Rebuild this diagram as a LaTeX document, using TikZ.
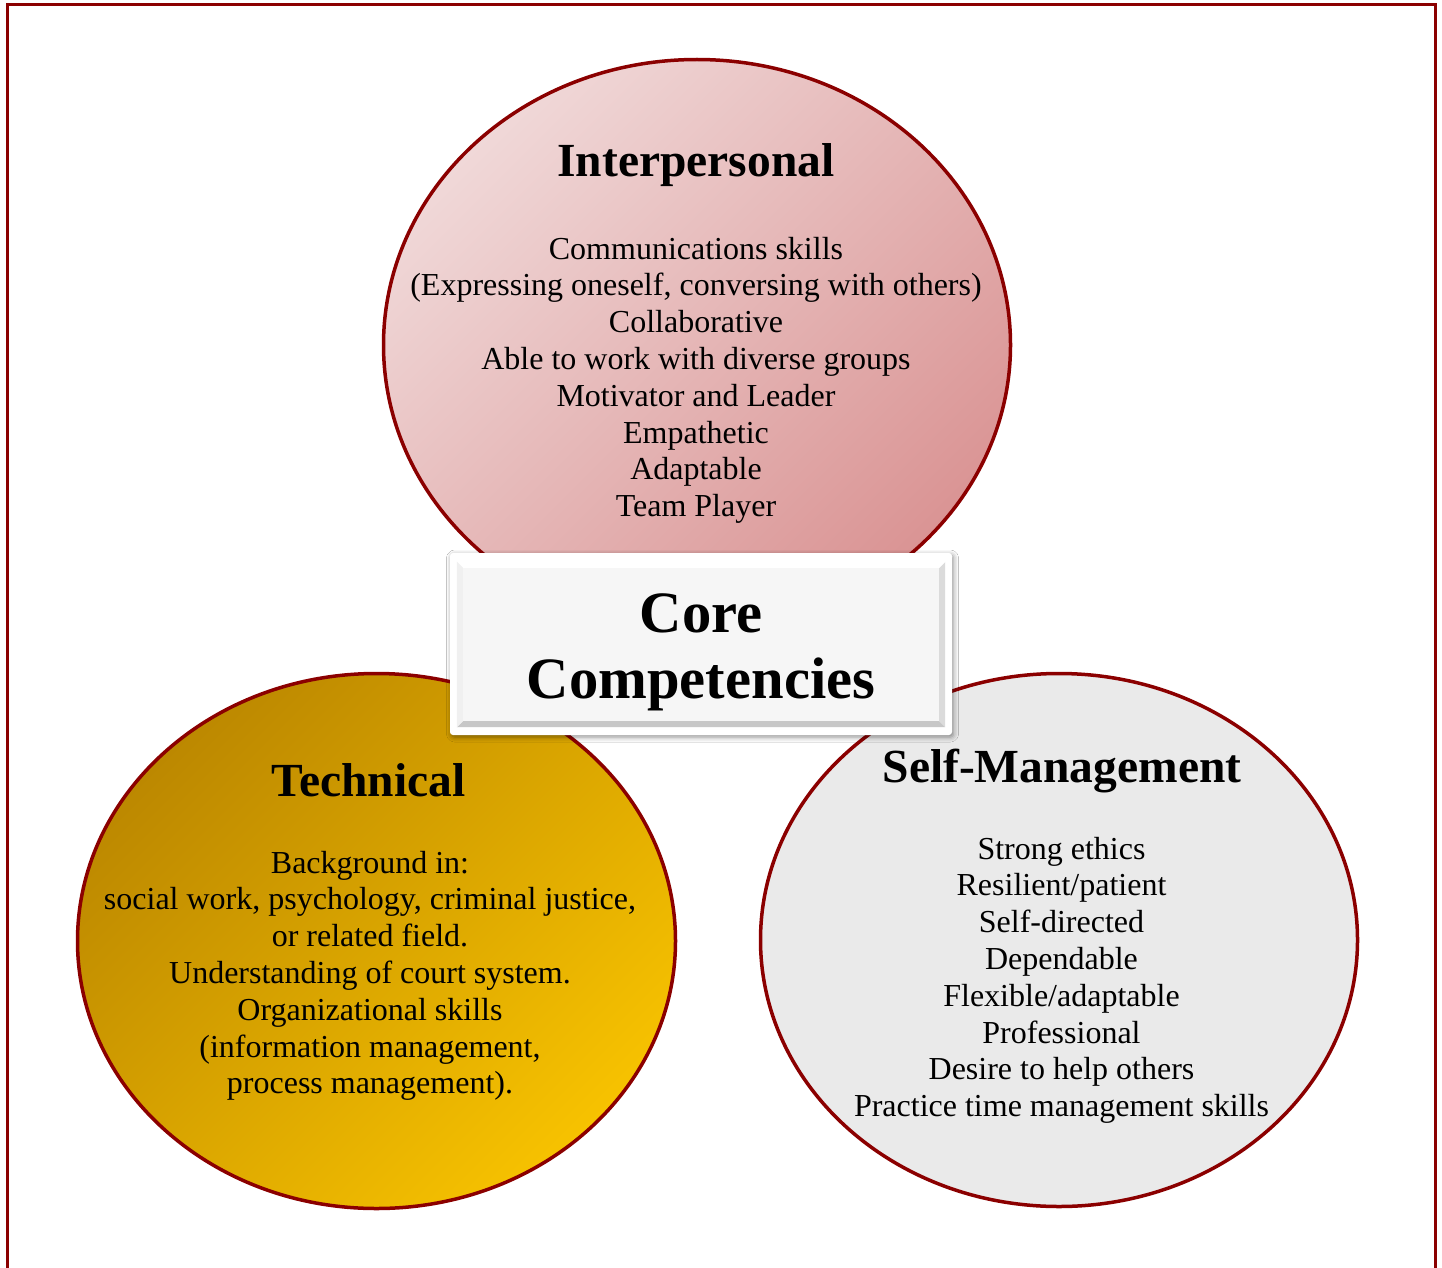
\documentclass[tikz,border=0pt]{standalone}
\usepackage{fontspec}
\setmainfont{Liberation Serif}
\usetikzlibrary{shapes.geometric,shadows.blur}
\definecolor{frame}{RGB}{139,0,0}
\definecolor{pinkA}{RGB}{240,216,216}
\definecolor{pinkB}{RGB}{218,148,148}
\definecolor{goldA}{RGB}{188,136,0}
\definecolor{goldB}{RGB}{247,194,0}
\definecolor{greyfill}{RGB}{234,234,234}
\definecolor{panel}{RGB}{246,246,246}
\tikzset{
  circ/.style={ellipse, draw=frame, line width=3.5pt, inner sep=0pt},
  ttl/.style={anchor=base, font=\fontsize{47.5}{52}\selectfont\bfseries},
  body/.style={anchor=base, align=center, font=\fontsize{32}{36.8}\selectfont},
}
\begin{document}
\begin{tikzpicture}[x=1pt,y=-1pt]
\useasboundingbox (0,0) rectangle (1442,1268);
\fill[white] (0,0) rectangle (1442,1268);
% outer frame
\coordinate (fa) at (7,1268);
\coordinate (fb) at (7,5);
\coordinate (fc) at (1435,5);
\coordinate (fd) at (1435,1268);
\draw[frame, line width=3pt] (fa) -- (fb) -- (fc) -- (fd);
% ellipses
\node[circ, top color=pinkA, bottom color=pinkB, shading angle=45,
      minimum width=627pt, minimum height=571pt] (inter) at (697,345) {};
\node[circ, top color=goldA, bottom color=goldB, shading angle=45,
      minimum width=598pt, minimum height=535pt] (tech) at (376.5,941) {};
\node[circ, fill=greyfill,
      minimum width=597pt, minimum height=533pt] (self) at (1059,940) {};
% centre box
\node[fill=white, rounded corners=3pt, minimum width=502pt, minimum height=182pt,
      blur shadow={shadow xshift=1.5pt, shadow yshift=-2pt, shadow blur radius=5pt, shadow opacity=45}]
      (box) at (701,644) {};
\node[fill=panel, minimum width=488pt, minimum height=165pt, inner sep=0pt] (panel) at (701,644.5) {};
\fill[black!22] (panel.south west) -- (panel.south east) -- ([xshift=-6pt,yshift=6pt]panel.south east) -- ([xshift=6pt,yshift=6pt]panel.south west) -- cycle;
\fill[black!14] (panel.south east) -- (panel.north east) -- ([xshift=-6pt,yshift=-6pt]panel.north east) -- ([xshift=-6pt,yshift=6pt]panel.south east) -- cycle;
\fill[white] (panel.north west) -- (panel.north east) -- ([xshift=-6pt,yshift=-6pt]panel.north east) -- ([xshift=6pt,yshift=-6pt]panel.north west) -- cycle;
\fill[black!6] (panel.north west) -- (panel.south west) -- ([xshift=6pt,yshift=6pt]panel.south west) -- ([xshift=6pt,yshift=-6pt]panel.north west) -- cycle;
\node[anchor=base, align=center, font=\fontsize{58.6}{66}\selectfont\bfseries] (core) at (701,698) {Core\\Competencies};
% titles
\node[ttl] (tInter) at (696,177) {Interpersonal};
\node[ttl] (tTech) at (368.5,796) {Technical};
\node[ttl] (tSelf) at (1062,782) {Self-Management};
% bodies
\node[body] (bInter) at (696,516.6) {Communications skills\\(Expressing oneself, conversing with others)\\Collaborative\\Able to work with diverse groups\\Motivator and Leader\\Empathetic\\Adaptable\\Team Player};
\node[body] (bTech) at (370,1093.8) {Background in:\\social work, psychology, criminal justice,\\or related field.\\Understanding of court system.\\Organizational skills\\(information management,\\process management).};
\node[body] (bSelf) at (1061.5,1116.6) {Strong ethics\\Resilient/patient\\Self-directed\\Dependable\\Flexible/adaptable\\Professional\\Desire to help others\\Practice time management skills};
\end{tikzpicture}
\end{document}
